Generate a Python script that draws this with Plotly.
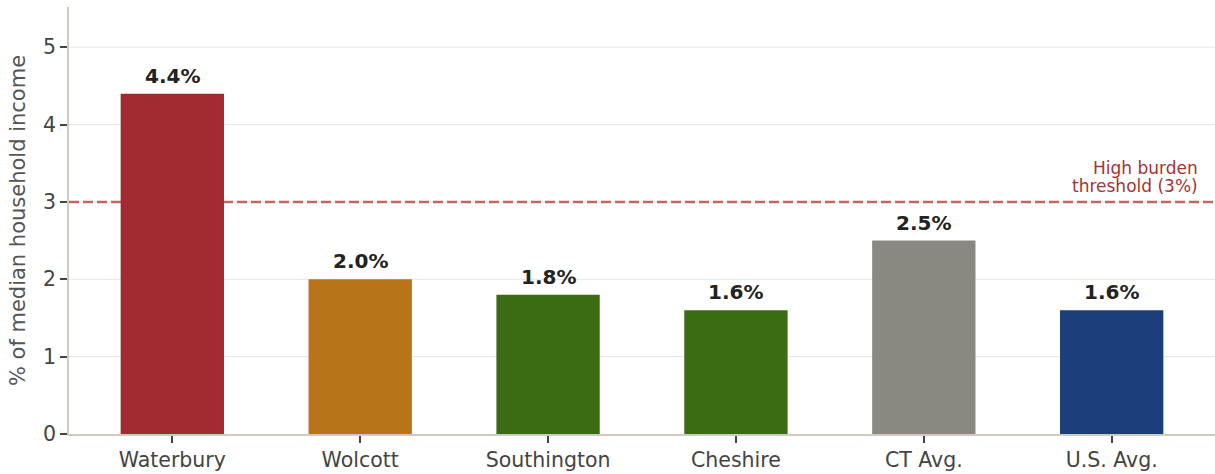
import plotly.graph_objects as go

# Water & sewer cost burden by place
places = ["Waterbury", "Wolcott", "Southington", "Cheshire", "CT Avg.", "U.S. Avg."]
burden_pct = [4.4, 2.0, 1.8, 1.6, 2.5, 1.6]
bar_colors = ["#A12B2F", "#B87418", "#3B6B12", "#3B6B12", "#898982", "#1C3E7A"]
threshold = 3.0
threshold_lines = ["High burden", "threshold (3%)"]
y_ticks = [0, 1, 2, 3, 4, 5]

FONT = "DejaVu Sans"

fig = go.Figure()
fig.add_trace(go.Bar(
    x=places,
    y=burden_pct,
    width=0.55,
    marker=dict(color=bar_colors, line=dict(width=0)),
    hoverinfo="skip",
))

# value labels above each bar
for place, v in zip(places, burden_pct):
    fig.add_annotation(
        x=place, y=v, text=f"<b>{v:.1f}%</b>", showarrow=False,
        xanchor="center", yanchor="bottom", yshift=4,
        font=dict(family=FONT, size=20, color="#222222"),
    )

# horizontal gridlines drawn as shapes so the threshold can sit on top of them
for t in y_ticks[1:]:
    fig.add_shape(
        type="line", xref="paper", yref="y", x0=0, x1=1, y0=t, y1=t,
        line=dict(color="#E6E6E6", width=1), layer="below",
    )
fig.add_shape(
    type="line", xref="paper", yref="y",
    x0=0, x1=1, y0=threshold, y1=threshold,
    line=dict(color="rgba(188,78,78,0.85)", width=2.4, dash="10px,4px"),
    layer="below",
)
# two-line label above the threshold, right aligned
for i, line in enumerate(reversed(threshold_lines)):
    fig.add_annotation(
        xref="paper", yref="y", x=0.987, y=threshold,
        text=line, showarrow=False, xanchor="right", yanchor="bottom",
        yshift=4 + i * 18,
        font=dict(family=FONT, size=17, color="#A83232"),
    )

fig.update_layout(
    width=1215, height=474,
    margin=dict(l=69, r=0, t=7, b=40),
    plot_bgcolor="white", paper_bgcolor="white",
    showlegend=False,
    font=dict(family=FONT, color="#444444"),
    bargap=0.45,
)
fig.update_xaxes(
    range=[-0.55, 5.55],
    showline=True, linecolor="#D0CBC2", linewidth=1.5,
    ticks="outside", ticklen=7, tickcolor="#444444", tickwidth=1.5,
    tickfont=dict(family=FONT, size=20.5, color="#444444"),
    showgrid=False, zeroline=False,
)
fig.update_yaxes(
    range=[0, 5.52],
    tickvals=y_ticks,
    showline=True, linecolor="#D0CBC2", linewidth=1.5,
    ticks="outside", ticklen=7, tickcolor="#444444", tickwidth=1.5,
    tickfont=dict(family=FONT, size=20.5, color="#444444"),
    showgrid=False, zeroline=False,
    title=dict(text="% of median household income", standoff=12,
               font=dict(family=FONT, size=21, color="#555555")),
)

fig.write_html("out.html")
